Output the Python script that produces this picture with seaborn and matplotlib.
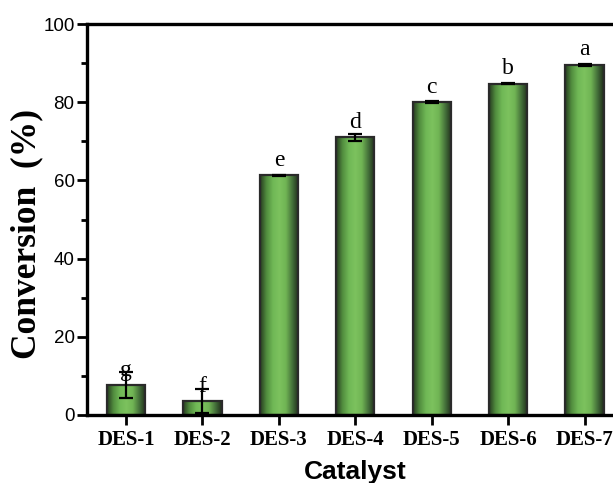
import numpy as np
import pandas as pd
import matplotlib
matplotlib.use("Agg")
import matplotlib.pyplot as plt
from matplotlib.colors import LinearSegmentedColormap
from matplotlib.ticker import MultipleLocator
import seaborn as sns

# Conversion results per catalyst
categories = ["DES-1", "DES-2", "DES-3", "DES-4", "DES-5", "DES-6", "DES-7"]
conversion = [7.7, 3.6, 61.3, 71.0, 80.1, 84.8, 89.6]
errors = [3.3, 3.0, 0.2, 0.8, 0.2, 0.2, 0.2]
letters = ["g", "f", "e", "d", "c", "b", "a"]

df = pd.DataFrame({"Catalyst": categories, "Conversion": conversion})

sns.set_style("ticks")
plt.rcParams.update({
    "text.color": "black",
    "axes.labelcolor": "black",
    "xtick.color": "black",
    "ytick.color": "black",
    "axes.edgecolor": "black",
})

fig = plt.figure(figsize=(6.13, 4.83), dpi=100)
ax = fig.add_axes([0.142, 0.1408, 0.874, 0.8092])

sns.barplot(data=df, x="Catalyst", y="Conversion", ax=ax, width=0.5,
            errorbar=None, color="#6db552", edgecolor="#2a2a2a", linewidth=1.6)

# cylinder-style horizontal shading inside each bar
shade = LinearSegmentedColormap.from_list(
    "shade", ["#263a20", "#518d3e", "#70b856", "#7cc25e", "#70b454", "#44703a", "#1e2a1a"])
grad = np.linspace(0, 1, 256).reshape(1, -1)
for patch in list(ax.patches):
    x0, y0 = patch.get_x(), patch.get_y()
    w, h = patch.get_width(), patch.get_height()
    im = ax.imshow(grad, cmap=shade, aspect="auto", extent=(x0, x0 + w, y0, y0 + h),
                   zorder=patch.get_zorder() - 0.1, interpolation="bicubic")
    im.set_clip_path(patch)
    patch.set_facecolor("none")

pos = np.arange(len(categories))
ax.errorbar(pos, conversion, yerr=errors, fmt="none", ecolor="black",
            elinewidth=1.6, capsize=5, capthick=1.6, zorder=5)

for p, v, lab in zip(pos, conversion, letters):
    ax.text(p, v + 3.8, lab, ha="center", va="center", fontsize=17,
            family="Liberation Serif", color="black", zorder=6)

ax.set_xlim(-0.51, 6.5)
ax.set_ylim(0, 100)
ax.yaxis.set_major_locator(MultipleLocator(20))
ax.yaxis.set_minor_locator(MultipleLocator(10))

for side in ["left", "bottom", "top", "right"]:
    ax.spines[side].set_visible(True)
    ax.spines[side].set_linewidth(2.4)
    ax.spines[side].set_color("black")

ax.tick_params(axis="y", which="major", length=7, width=2, direction="out",
               labelsize=13.5, pad=2)
ax.tick_params(axis="y", which="minor", length=4, width=2, direction="out")
ax.tick_params(axis="x", which="major", length=7, width=2, direction="out", pad=4)
ax.tick_params(top=False, right=False, which="both")

for lab in ax.get_yticklabels():
    lab.set_family("Liberation Sans")
ax.set_xticks(pos)
ax.set_xticklabels(categories, family="Liberation Serif", fontweight="bold", fontsize=15)

ax.set_xlabel("Catalyst", family="Liberation Sans", fontweight="bold", fontsize=19, labelpad=7)
ax.set_ylabel("Conversion  (%)", family="Liberation Serif", fontweight="bold", fontsize=25.5)
ax.yaxis.set_label_coords(-0.082, 0.464)

fig.savefig("out.png", dpi=100)
